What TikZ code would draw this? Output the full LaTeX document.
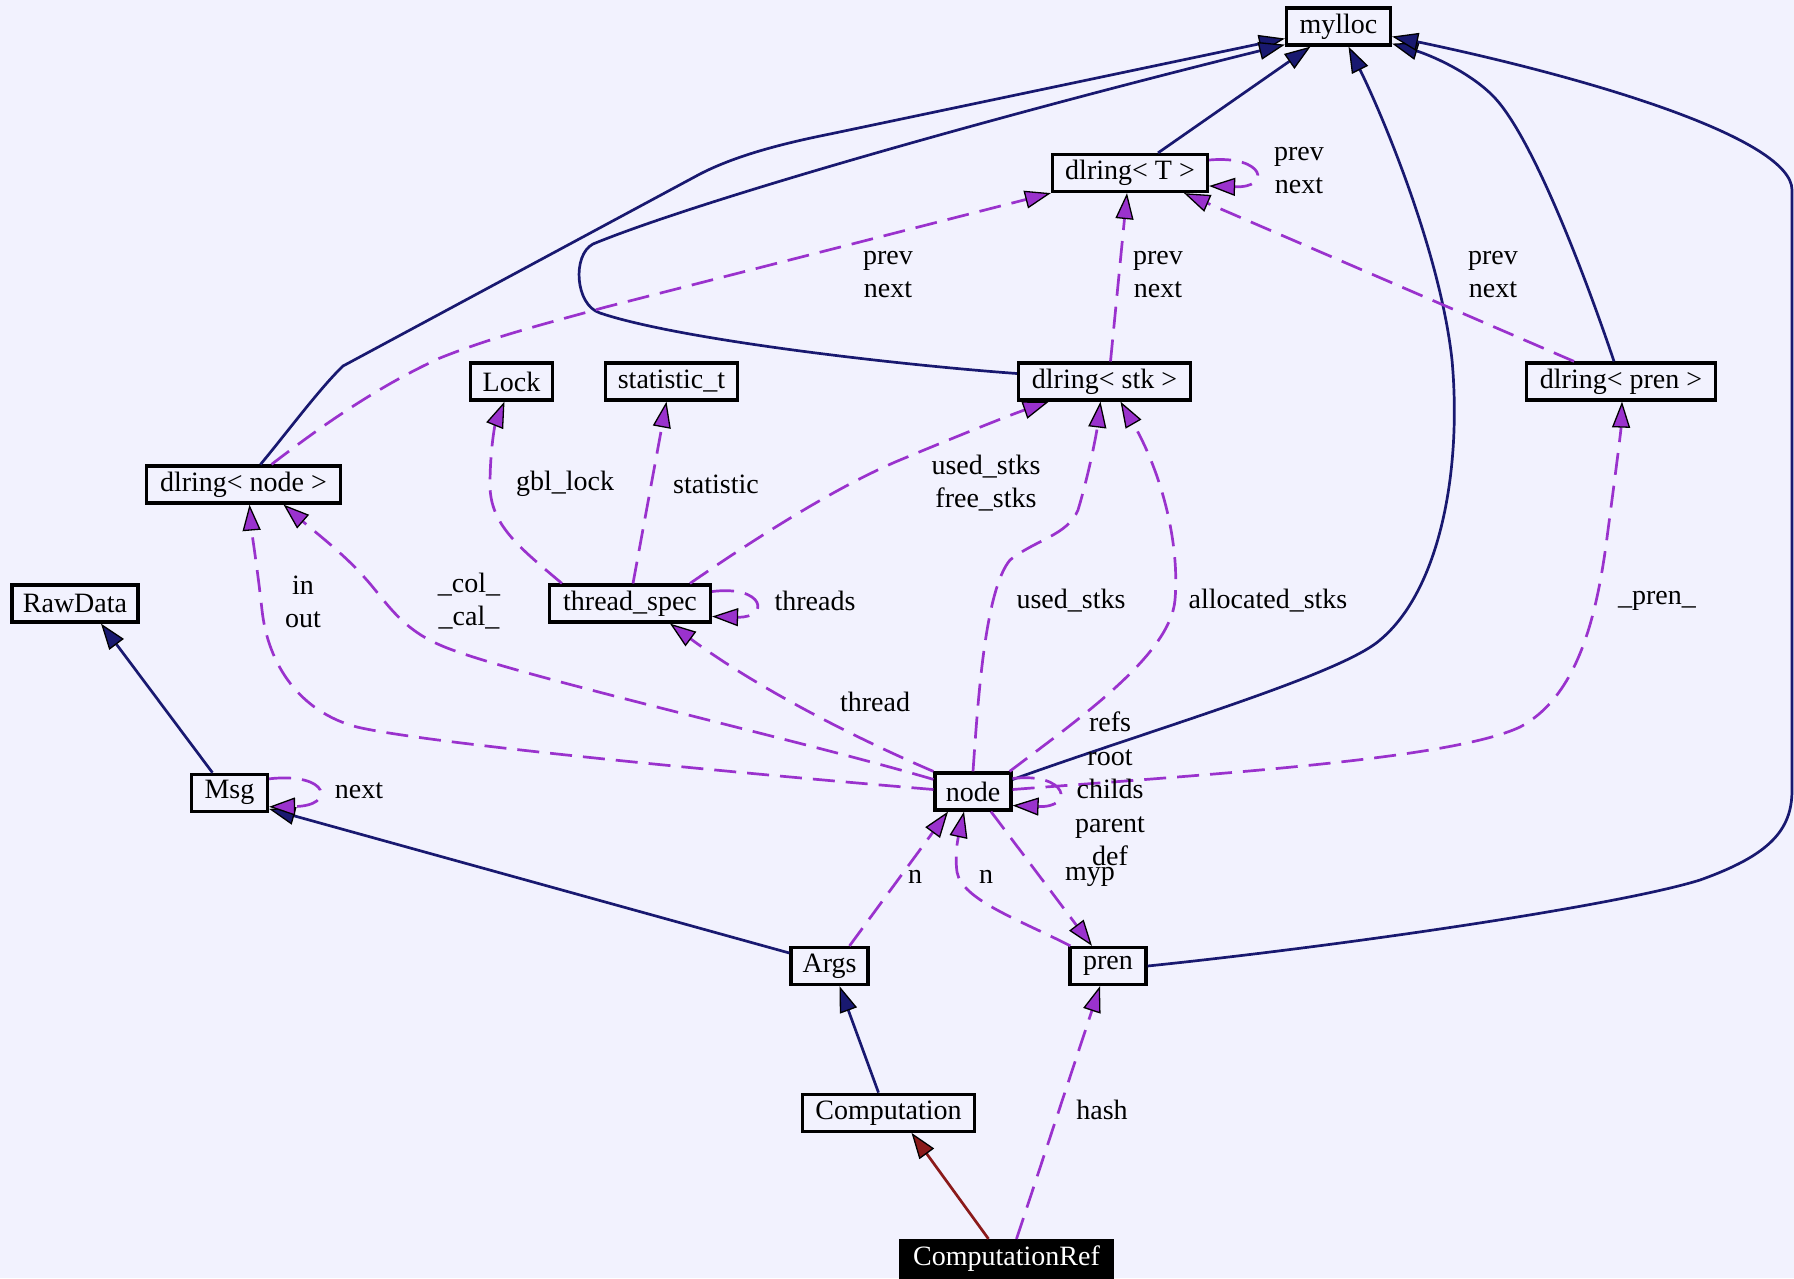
\documentclass[tikz,border=0pt]{standalone}
\usepackage{fontspec}
\setmainfont{Liberation Serif}
\usetikzlibrary{arrows.meta}
\definecolor{bg}{HTML}{F2F2FE}
\definecolor{inhcol}{HTML}{191970}
\definecolor{usecol}{HTML}{9A32CD}
\definecolor{privcol}{HTML}{8B1A1A}

\tikzset{
  cls/.style={draw=black, line width=3.2pt, fill=bg, minimum height=37pt,
    inner sep=0pt, font=\fontsize{28}{33}\selectfont, text=black},
  lbl/.style={font=\fontsize{28}{33}\selectfont, align=center, inner sep=0pt},
  inh/.style={draw=inhcol, line width=2.7pt,
    -{Triangle[length=26pt,width=18pt,color=black,fill=inhcol,line width'=1.3pt]}},
  use/.style={draw=usecol, line width=2.7pt, dash pattern=on 22pt off 11pt,
    -{Triangle[length=26pt,width=18pt,color=black,fill=usecol,line width'=1.3pt]}},
  priv/.style={draw=privcol, line width=2.7pt,
    -{Triangle[length=26pt,width=18pt,color=black,fill=privcol,line width'=1.3pt]}},
}

\begin{document}
\begin{tikzpicture}[x=1pt,y=-1pt]
\fill[bg] (0,0) rectangle (1794,1278);
\useasboundingbox (0,0) rectangle (1794,1278);

% classes
\node[cls, minimum width=104pt] (ml)    at (1338.5,26.5)  {mylloc};
\node[cls, minimum width=155pt] (dT)    at (1130,173)     {dlring\textless{} T \textgreater};
\node[cls, minimum width=82pt]  (lock)  at (511.5,381.5)  {Lock};
\node[cls, minimum width=132pt] (stat)  at (671.5,381.5)  {statistic\_t};
\node[cls, minimum width=172pt] (dstk)  at (1104.5,381.5) {dlring\textless{} stk \textgreater};
\node[cls, minimum width=189pt] (dpren) at (1621,381.5)   {dlring\textless{} pren \textgreater};
\node[cls, minimum width=194pt] (dn)    at (243.5,484.5)  {dlring\textless{} node \textgreater};
\node[cls, minimum width=126pt] (raw)   at (75,603.5)     {RawData};
\node[cls, minimum width=161pt] (ts)    at (630,603.5)    {thread\_spec};
\node[cls, minimum width=76pt]  (msg)   at (229.5,792.8)  {Msg};
\node[cls, minimum width=76pt]  (nd)    at (973,791.5)    {node};
\node[cls, minimum width=77pt]  (args)  at (829.5,966)    {Args};
\node[cls, minimum width=76pt]  (pren)  at (1108,966)     {pren};
\node[cls, minimum width=172pt] (comp)  at (888.5,1112.7) {Computation};
\node[cls, minimum width=212pt, fill=black, text=white] (cref) at (1006.5,1259) {ComputationRef};

% inheritance
\draw[inh] ([xshift=17pt]dn.north) .. controls (285,435) and (320,388) .. (343,366)
  -- (700,174) .. controls (735,156) and (780,144) .. (830,134) -- ([yshift=-12pt]ml.west);
\draw[inh] ([yshift=8pt]dstk.west) .. controls (900,365) and (680,340) .. (600,313)
  .. controls (575,305) and (572,255) .. (593,244)
  .. controls (700,200) and (1000,115) .. ([yshift=2pt]ml.south west);
\draw[inh] ([xshift=28pt]dT.north) -- ([xshift=-28pt]ml.south);
\draw[inh] ([yshift=12pt]nd.east) .. controls (1150,730) and (1340,675) .. (1380,640)
  .. controls (1440,590) and (1462,470) .. (1452,360)
  .. controls (1440,250) and (1380,110) .. ([xshift=10pt]ml.south);
\draw[inh] ([xshift=-7pt]dpren.north) .. controls (1590,290) and (1535,140) .. (1494,97)
  .. controls (1470,72) and (1430,55) .. ([yshift=3pt]ml.south east);
\draw[inh] (pren.east) .. controls (1350,945) and (1620,905) .. (1700,880)
  .. controls (1770,855) and (1792,830) .. (1792,790) -- (1792,190)
  .. controls (1792,140) and (1600,80) .. ([yshift=-10pt]ml.east);
\draw[inh] ([xshift=-17pt]msg.north) -- ([xshift=26pt]raw.south);
\draw[inh] ([yshift=13pt]args.west) -- ([yshift=4pt]msg.south east);
\draw[inh] ([xshift=-10pt]comp.north) -- ([xshift=10pt]args.south);
\draw[priv] ([xshift=-18pt]cref.north) -- ([xshift=23pt]comp.south);

% usage relations
\draw[use] ([yshift=14pt]msg.east) .. controls (330,772) and (336,806) .. ([yshift=-14pt]msg.east);
\draw[use] ([xshift=28pt]dn.north) .. controls (310,435) and (370,390) .. (440,358)
  .. controls (490,338) and (540,325) .. (606,307) -- (dT.south west);
\draw[use] ([yshift=13pt]dT.east) .. controls (1265,155) and (1272,188) .. ([yshift=-13pt]dT.east);
\draw[use] ([xshift=6pt]dstk.north) -- ([xshift=-3pt]dT.south);
\draw[use] ([xshift=-47pt]dpren.north) -- ([xshift=54pt]dT.south);
\draw[use] ([xshift=14pt]ts.north west) .. controls (520,548) and (490,525) .. (490,485)
  .. controls (490,450) and (495,425) .. ([xshift=-7pt]lock.south);
\draw[use] ([xshift=3pt]ts.north) -- ([xshift=-5pt]stat.south);
\draw[use] ([xshift=60pt]ts.north) .. controls (760,535) and (840,485) .. (900,460)
  .. controls (960,435) and (1010,415) .. ([xshift=32pt]dstk.south west);
\draw[use] ([yshift=12pt]ts.east) .. controls (765,585) and (770,618) .. ([yshift=-13pt]ts.east);
\draw[use] (nd.north west) .. controls (860,740) and (760,690) .. ([xshift=40pt]ts.south);
\draw[use] ([yshift=-8pt]nd.north west) .. controls (800,740) and (500,672) .. (440,645)
  .. controls (400,628) and (385,600) .. (365,578)
  .. controls (345,555) and (315,532) .. ([xshift=40pt]dn.south);
\draw[use] ([yshift=2pt]nd.west) .. controls (700,770) and (420,742) .. (357,727)
  .. controls (300,712) and (268,665) .. (262,610)
  .. controls (257,565) and (252,535) .. ([xshift=6pt]dn.south);
\draw[use] (nd.north) .. controls (978,700) and (985,590) .. (1010,560)
  .. controls (1035,540) and (1068,535) .. (1078,510)
  .. controls (1090,470) and (1097,430) .. ([xshift=-4pt]dstk.south);
\draw[use] ([xshift=-3pt]nd.north east) .. controls (1080,718) and (1170,655) .. (1175,600)
  .. controls (1180,540) and (1160,470) .. ([xshift=16pt]dstk.south);
\draw[use] ([yshift=2pt]nd.east) .. controls (1200,775) and (1450,760) .. (1520,727)
  .. controls (1580,695) and (1598,610) .. (1608,530)
  .. controls (1616,470) and (1621,430) .. ([xshift=1pt]dpren.south);
\draw[use] ([yshift=13pt]nd.east) .. controls (1068,772) and (1075,808) .. ([yshift=-14pt]nd.east);
\draw[use] ([xshift=20pt]args.north) -- ([xshift=-25pt]nd.south);
\draw[use] ([xshift=2pt]pren.north west) .. controls (1020,920) and (962,900) .. (957,872)
  .. controls (954,850) and (960,830) .. ([xshift=-9pt]nd.south);
\draw[use] ([xshift=18pt]nd.south) -- ([xshift=-16pt]pren.north);
\draw[use] ([xshift=10pt]cref.north) -- ([xshift=-8pt]pren.south);

% member labels
\node[lbl] (l0)  at (359,790.5)  {next};
\node[lbl] (l1)  at (888,274.5)  {prev\\next};
\node[lbl] (l2)  at (1299,170.5) {prev\\next};
\node[lbl] (l3)  at (1158,274.5) {prev\\next};
\node[lbl] (l4)  at (1493,274.5) {prev\\next};
\node[lbl] (l5)  at (565,484)    {gbl\_lock};
\node[lbl] (l6)  at (716,484)    {statistic};
\node[lbl] (l7)  at (986,483.5)  {used\_stks\\free\_stks};
\node[lbl] (l8)  at (815,601)    {threads};
\node[lbl] (l9)  at (875,702)    {thread};
\node[lbl] (l10) at (469,601.5)  {\_col\_\\\_cal\_};
\node[lbl] (l11) at (303,601.5)  {in\\out};
\node[lbl] (l12) at (1071,601)   {used\_stks};
\node[lbl] (l13) at (1268,601)   {allocated\_stks};
\node[lbl] (l14) at (1657,601)   {\_pren\_};
\node[lbl, font=\fontsize{28}{33.5}\selectfont] (l15) at (1110,789) {refs\\root\\childs\\parent\\def};
\node[lbl] (l16) at (915,877)    {n};
\node[lbl] (l17) at (986,877)    {n};
\node[lbl] (l18) at (1090,877)   {myp};
\node[lbl] (l19) at (1102,1110)  {hash};
\end{tikzpicture}
\end{document}
